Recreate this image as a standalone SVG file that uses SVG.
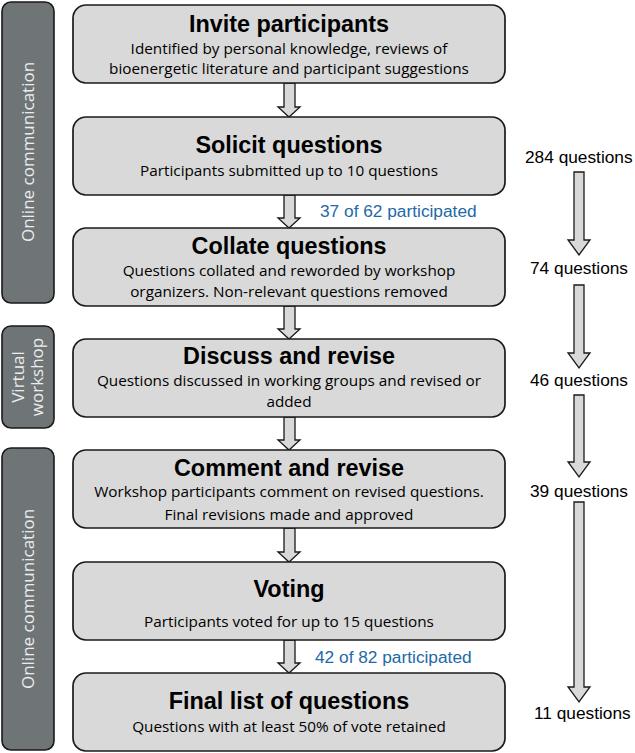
<svg xmlns="http://www.w3.org/2000/svg" width="635" height="753" viewBox="0 0 635 753">
<style>
.box{fill:#d9d9d9;stroke:#1a1a1a;stroke-width:1.7}
.side{fill:#6f7577;stroke:#1a1a1a;stroke-width:1.6}
.arr{fill:#d9d9d9;stroke:#1a1a1a;stroke-width:1.3;stroke-linejoin:miter}
.t{font-family:"Liberation Sans",Arial,sans-serif;font-weight:bold;font-size:23.4px;fill:#000;text-anchor:middle}
.s{font-family:"Open Sans","Noto Sans",sans-serif;font-size:15.3px;fill:#000;text-anchor:middle}
.q{font-family:"Liberation Sans",Arial,sans-serif;font-size:17.3px;fill:#000}
.b{font-family:"Liberation Sans",Arial,sans-serif;font-size:17.3px;fill:#2369a8}
.v{font-family:"Open Sans","Noto Sans",sans-serif;font-size:17px;fill:#ececec;text-anchor:middle}
</style>
<rect width="635" height="753" fill="#fff"/>
<g id="side1"><rect class="side" x="2" y="2" width="52" height="301" rx="9"/><text class="v" transform="translate(34,152) rotate(-90)">Online communication</text></g>
<g id="side2"><rect class="side" x="2" y="326" width="52" height="102" rx="9"/><text class="v" transform="translate(24,377) rotate(-90)">Virtual</text><text class="v" transform="translate(43,377) rotate(-90)">workshop</text></g>
<g id="side3"><rect class="side" x="2" y="448" width="52" height="302" rx="9"/><text class="v" transform="translate(34,599) rotate(-90)">Online communication</text></g>
<g id="connectors">
<path class="arr" d="M284,83 V107 H278 L289,117 L300,107 H295 V83 Z"/>
<path class="arr" d="M284,195 V218 H278 L289,228 L300,218 H295 V195 Z"/>
<path class="arr" d="M284,306 V329 H278 L289,339 L300,329 H295 V306 Z"/>
<path class="arr" d="M284,417 V440 H278 L289,450 L300,440 H295 V417 Z"/>
<path class="arr" d="M284,528 V552 H278 L289,562 L300,552 H295 V528 Z"/>
<path class="arr" d="M284,640 V663 H278 L289,673 L300,663 H295 V640 Z"/>
<path class="arr" d="M574,172 V240 H568 L579,255 L590,240 H584 V172 Z"/>
<path class="arr" d="M574,285 V353 H568 L579,368 L590,353 H584 V285 Z"/>
<path class="arr" d="M574,395 V462 H568 L579,477 L590,462 H584 V395 Z"/>
<path class="arr" d="M574,502 V687 H568 L579,702 L590,687 H584 V502 Z"/>
<text class="b" x="320" y="217">37 of 62 participated</text>
<text class="b" x="315" y="663">42 of 82 participated</text>
</g>
<g id="invite"><rect class="box" x="73" y="5" width="432" height="78" rx="13"/><text class="t" x="289" y="32">Invite participants</text><text class="s" x="289" y="54">Identified by personal knowledge, reviews of</text><text class="s" x="289" y="74">bioenergetic literature and participant suggestions</text></g>
<g id="solicit"><rect class="box" x="73" y="117" width="432" height="78" rx="13"/><text class="t" x="289" y="153">Solicit questions</text><text class="s" x="289" y="176">Participants submitted up to 10 questions</text></g>
<g id="collate"><rect class="box" x="73" y="228" width="432" height="78" rx="13"/><text class="t" x="289" y="254">Collate questions</text><text class="s" x="289" y="276">Questions collated and reworded by workshop</text><text class="s" x="289" y="297">organizers. Non-relevant questions removed</text></g>
<g id="discuss"><rect class="box" x="73" y="339" width="432" height="78" rx="13"/><text class="t" x="289" y="364">Discuss and revise</text><text class="s" x="289" y="386">Questions discussed in working groups and revised or</text><text class="s" x="289" y="407">added</text></g>
<g id="comment"><rect class="box" x="73" y="450" width="432" height="78" rx="13"/><text class="t" x="289" y="476">Comment and revise</text><text class="s" x="289" y="497">Workshop participants comment on revised questions.</text><text class="s" x="289" y="520">Final revisions made and approved</text></g>
<g id="voting"><rect class="box" x="73" y="562" width="432" height="78" rx="13"/><text class="t" x="289" y="597">Voting</text><text class="s" x="289" y="627">Participants voted for up to 15 questions</text></g>
<g id="final"><rect class="box" x="73" y="673" width="432" height="78" rx="13"/><text class="t" x="289" y="709">Final list of questions</text><text class="s" x="289" y="732">Questions with at least 50% of vote retained</text></g>
<g id="counts">
<text class="q" x="525" y="163">284 questions</text>
<text class="q" x="530" y="274">74 questions</text>
<text class="q" x="530" y="386">46 questions</text>
<text class="q" x="530" y="497">39 questions</text>
<text class="q" x="534" y="719">11 questions</text>
</g>
</svg>
